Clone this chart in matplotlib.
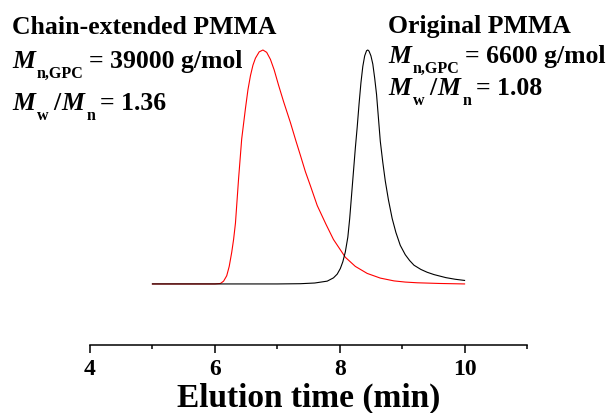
import matplotlib
matplotlib.use("Agg")
import matplotlib.pyplot as plt
from matplotlib.ticker import MultipleLocator
from matplotlib.transforms import IdentityTransform

# Elution traces (normalised to peak = 1)
red_t = [5.0, 5.5, 6.0, 6.09, 6.14, 6.19, 6.23, 6.27, 6.30, 6.33, 6.38, 6.43,
         6.49, 6.53, 6.57, 6.61, 6.65, 6.71, 6.77, 6.83, 6.89, 6.95, 7.02,
         7.10, 7.21, 7.30, 7.37, 7.45, 7.53, 7.64, 7.78, 7.90, 8.00, 8.09,
         8.25, 8.44, 8.65, 8.87, 9.05, 9.24, 9.6, 10.0]
red_y = [0, 0, 0, 0.002, 0.012, 0.035, 0.075, 0.135, 0.19, 0.26, 0.45, 0.62,
         0.75, 0.83, 0.89, 0.935, 0.965, 0.992, 1.0, 0.99, 0.96, 0.915, 0.85,
         0.78, 0.69, 0.61, 0.55, 0.48, 0.42, 0.335, 0.255, 0.19, 0.15, 0.114,
         0.075, 0.045, 0.025, 0.013, 0.008, 0.005, 0.002, 0.0]

black_t = [5.0, 6.0, 7.0, 7.37, 7.6, 7.8, 7.9, 7.96, 8.01, 8.05, 8.09, 8.13,
           8.16, 8.19, 8.22, 8.25, 8.28, 8.31, 8.34, 8.37, 8.40, 8.43, 8.45,
           8.47, 8.50, 8.53, 8.56, 8.59, 8.62, 8.65, 8.69, 8.73, 8.78, 8.84,
           8.90, 8.97, 9.05, 9.12, 9.19, 9.3, 9.4, 9.51, 9.7, 9.85, 10.0]
black_y = [0, 0, 0, 0.001, 0.004, 0.012, 0.026, 0.042, 0.066, 0.095, 0.137,
           0.2, 0.28, 0.38, 0.48, 0.58, 0.67, 0.77, 0.86, 0.93, 0.975, 0.997,
           1.0, 0.995, 0.975, 0.94, 0.88, 0.81, 0.71, 0.61, 0.52, 0.44, 0.36,
           0.28, 0.22, 0.165, 0.125, 0.1, 0.08, 0.062, 0.05, 0.04, 0.027,
           0.02, 0.015]

major_ticks = [4, 6, 8, 10]

# annotation pieces: (text, kind)  kind: main / italic / sub
left_block = [
    [("Chain-extended PMMA", "main")],
    [("M", "italic"), ("n,GPC", "sub"), ("= 39000 g/mol", "main")],
    [("M", "italic"), ("w", "sub"), ("/", "main"), ("M", "italic"),
     ("n", "sub"), ("= 1.36", "main")],
]
right_block = [
    [("Original PMMA", "main")],
    [("M", "italic"), ("n,GPC", "sub"), ("= 6600 g/mol", "main")],
    [("M", "italic"), ("w", "sub"), ("/", "main"), ("M", "italic"),
     ("n", "sub"), ("= 1.08", "main")],
]

plt.rcParams["font.family"] = ["Liberation Serif", "DejaVu Serif"]
plt.rcParams["font.weight"] = "bold"

W, H = 611, 414
fig = plt.figure(figsize=(W / 100, H / 100), dpi=100)
ax = fig.add_axes([90 / W, 1 - 346 / H, (527 - 90) / W, 346 / H])

ax.plot(red_t, red_y, color="red", lw=0.8)
ax.plot(black_t, black_y, color="black", lw=0.8)

ax.set_xlim(4, 11)
ax.set_ylim(-0.261, 1.218)
for s in ["left", "right", "top"]:
    ax.spines[s].set_visible(False)
ax.spines["bottom"].set_linewidth(1.1)
ax.set_yticks([])
ax.set_xticks(major_ticks)
ax.xaxis.set_minor_locator(MultipleLocator(1))
ax.tick_params(axis="x", which="major", length=5.5, width=1.1, pad=4,
               labelsize=17)
ax.tick_params(axis="x", which="minor", length=3, width=1.1)
ax.set_xlabel("Elution time (min)", fontsize=24, fontweight="bold", labelpad=2)

renderer = fig.canvas.get_renderer()
gaps = {"italic": 2, "sub": 5, "main": 1}


def write_line(x, yb, parts):
    # yb: baseline in pixels from the top
    for txt, kind in parts:
        size = 11.5 if kind == "sub" else 18.5
        style = "italic" if kind == "italic" else "normal"
        dy = 10 if kind == "sub" else 0
        t = fig.text(x, H - yb - dy, txt, fontsize=size, fontweight="bold",
                     style=style, va="baseline", ha="left",
                     transform=IdentityTransform())
        x = t.get_window_extent(renderer).x1 + gaps[kind]


for parts, yb in zip(left_block, [34, 68, 110]):
    write_line(12, yb, parts)
for parts, yb in zip(right_block, [33, 63, 95]):
    write_line(388, yb, parts)

fig.savefig("out.png", dpi=100)
